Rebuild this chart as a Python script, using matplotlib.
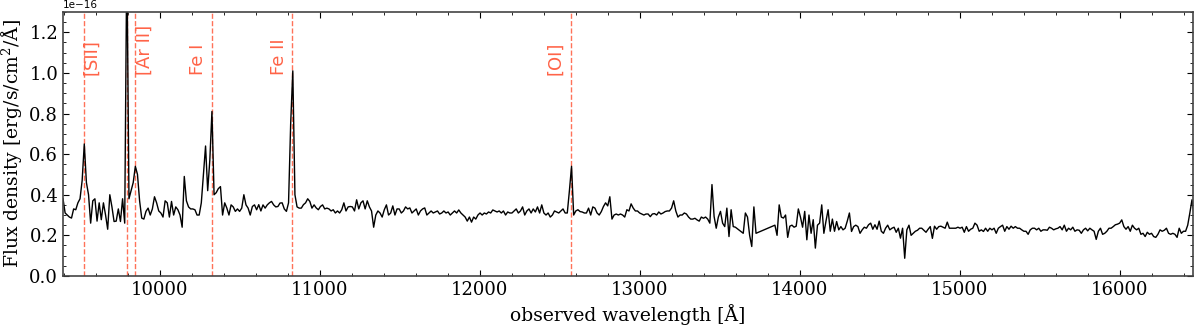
import matplotlib
matplotlib.use("Agg")
import matplotlib.pyplot as plt
import numpy as np

# spectrum (flux in units of 1e-16 erg/s/cm2/A)
# three chunks, the spectrum has gaps between them
step = 13.3

start_a = 9394.0
flux_a = [
    .38, .31, .30, .29, .285, .33, .326, .36, .38, .47,
    .65, .46, .40, .26, .37, .38, .27, .36, .277, .36,
    .30, .23, .40, .34, .268, .27, .33, .268, .38, .26,
    1.6, .38, .42, .46, .54, .50, .37, .285, .28, .318,
    .334, .30, .33, .39, .36, .32, .31, .29, .37, .36,
    .29, .367, .30, .34, .326, .30, .24, .49, .37, .34,
    .33, .33, .326, .30, .30, .36, .50, .64, .42, .57,
    .81, .40, .41, .43, .44, .30, .36, .334, .30, .35,
    .34, .318, .33, .318, .334, .40, .35, .334, .30, .342,
    .35, .326, .351, .32, .35, .334, .35, .36, .367, .35,
    .34, .342, .359, .36, .33, .318, .36, .75, 1.01, .40,
    .34, .334, .334, .351, .36, .38, .367, .334, .35, .335,
    .326, .342, .35, .33, .334, .33, .32, .326, .31, .32,
    .31, .326, .36, .32, .34, .342, .34, .32, .375, .33,
    .36, .37, .33, .37, .34, .32, .24, .30, .32, .31,
    .29, .326, .35, .30, .31, .345, .30, .33, .33, .31,
    .32, .34, .33, .335, .31, .32, .33, .30, .32, .33,
    .335, .30, .31, .32, .31, .315, .32, .305, .31, .32,
    .31, .315, .30, .31, .32, .31, .325, .31, .30, .29,
    .27, .29, .265, .29, .28, .30, .31, .30, .31, .305,
    .315, .31, .325, .32, .315, .32, .31, .32, .30, .315,
    .31, .31, .32, .33, .31, .32, .34, .30, .32, .33,
    .31, .33, .315, .34, .31, .35, .31, .30, .31, .29,
    .30, .32, .315, .31, .32, .33, .31, .31, .42, .54,
    .30, .32, .326, .317, .315, .31, .31, .334, .30, .34,
    .334, .31, .30, .317, .342, .36, .345, .39, .28, .30,
    .305, .30, .305, .30, .29, .326, .32, .355, .334, .32,
    .32, .31, .305, .30, .305, .305, .292, .305, .307, .30,
    .315, .305, .31, .317, .32, .32, .334, .37, .32, .29,
    .30, .30, .31, .305, .29, .28, .28, .284, .276, .27,
    .29, .284, .29, .28, .26, .45, .293, .235, .29, .318,
    .26, .243, .334, .194, .326, .243, .24,
]

start_b = 13646.0
flux_b = [.21, .31, .29, .20, .145, .34, .21]

start_c = 13844.0
flux_c = [
    .25, .20, .35, .29, .285, .30, .19, .245, .25, .24,
    .245, .33, .29, .24, .318, .178, .30, .21, .277, .137,
    .25, .26, .35, .21, .27, .326, .22, .28, .22, .268,
    .227, .243, .227, .235, .27, .31, .219, .243, .25, .243,
    .21, .227, .24, .235, .252, .26, .23, .252, .23, .27,
    .22, .21, .235, .25, .227, .235, .24, .215, .235, .186,
    .235, .087, .227, .25, .20, .21, .22, .225, .235, .235,
    .225, .215, .23, .243, .185, .245, .23, .243, .245, .24,
    .235, .265, .235, .235, .235, .235, .24, .235, .24, .215,
    .243, .22, .23, .235, .26, .25, .22, .227, .219, .235,
    .22, .235, .227, .235, .21, .235, .243, .25, .22, .243,
    .23, .245, .235, .243, .235, .235, .227, .22, .22, .205,
    .227, .235, .235, .227, .235, .22, .227, .227, .225, .24,
    .235, .227, .232, .235, .243, .227, .25, .22, .235, .227,
    .24, .22, .227, .225, .21, .227, .235, .222, .235, .227,
    .22, .18, .22, .235, .205, .21, .22, .235, .235, .243,
    .252, .255, .26, .276, .243, .23, .243, .22, .25, .235,
    .227, .235, .205, .21, .194, .215, .205, .21, .194, .19,
    .205, .227, .22, .225, .235, .21, .205, .21, .205, .19,
    .235, .21, .22, .22, .25, .31, .375, .30,
]

# emission lines
line_waves = [9527, 9792, 9846, 10325, 10823, 12569]
label_names = ['[SII]', '[Ar II]', 'Fe I', 'Fe II', '[OI]']
label_waves = [9573, 9906, 10239, 10746, 12469]


def chunk(start, flux):
    wl = start + step * np.arange(len(flux))
    return wl, np.array(flux)


wave = []
flux = []
for s, f in [(start_a, flux_a), (start_b, flux_b), (start_c, flux_c)]:
    w, v = chunk(s, f)
    wave.append(w)
    flux.append(v)
wave = np.concatenate(wave)
flux = np.concatenate(flux) * 1e-16

plt.rcParams['font.family'] = 'DejaVu Serif'
plt.rcParams['mathtext.fontset'] = 'dejavuserif'

fig = plt.figure(figsize=(12, 3.25), dpi=100)
ax = fig.add_axes([0.0525, 0.151, 0.9415, 0.812])

line_col = '#ff6347'
for lw_ in line_waves:
    ax.axvline(lw_, color=line_col, ls='--', lw=1, alpha=0.9)
for name, x in zip(label_names, label_waves):
    ax.text(x, 0.99e-16, name, rotation=90, ha='center', va='bottom',
            color=line_col, fontsize=13, family='DejaVu Sans')

ax.plot(wave, flux, color='black', lw=1)

ax.set_xlim(9394, 16456)
ax.set_ylim(0, 1.3e-16)
ax.set_xlabel('observed wavelength [Å]', fontsize=13.5)
ax.set_ylabel('Flux density [erg/s/cm$^2$/Å]', fontsize=13.5)

ax.xaxis.set_minor_locator(matplotlib.ticker.MultipleLocator(200))
ax.yaxis.set_minor_locator(matplotlib.ticker.MultipleLocator(0.05e-16))
ax.tick_params(which='both', direction='in', top=True, right=True, labelsize=13)
ax.tick_params(which='major', length=4.5)
ax.tick_params(which='minor', length=2.5)
for sp in ax.spines.values():
    sp.set_color('#444444')
    sp.set_linewidth(1.2)

ax.yaxis.get_offset_text().set_fontfamily('DejaVu Sans')
ax.yaxis.get_offset_text().set_fontsize(7.5)

fig.savefig('out.png', dpi=100)
